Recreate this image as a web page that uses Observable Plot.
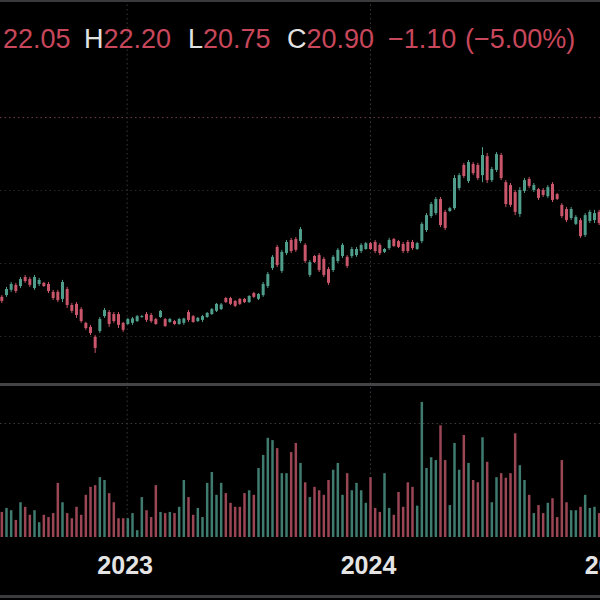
<!DOCTYPE html>
<html>
<head>
<meta charset="utf-8">
<script src="https://cdn.jsdelivr.net/npm/d3@7"></script>
<script src="https://cdn.jsdelivr.net/npm/@observablehq/plot@0.6"></script>
<style>
  html, body { margin: 0; padding: 0; background: #000; }
  #wrap { position: relative; width: 600px; height: 600px; overflow: hidden; background: #000; font-family: "Liberation Sans", Arial, sans-serif; }
  #price { position: absolute; left: 0; top: 0; }
  #vol { position: absolute; left: 0; top: 385px; }
  .hdr { position: absolute; top: 26px; font-size: 27px; line-height: 27px; color: #c8475b; white-space: nowrap; }
  .lbl { color: #e2e2e2; }
  #topline { position: absolute; left: 0; top: 0; width: 600px; height: 2px; background: #3a3a3c; }
  #sep { position: absolute; left: 0; top: 383px; width: 600px; height: 3px; background: #444446; }
  #bottom { position: absolute; left: 0; top: 595px; width: 600px; height: 3px; background: #3c3c3e; }
</style>
</head>
<body>
<div id="wrap">
  <div id="price"></div>
  <div id="vol"></div>
  <div id="topline"></div>
  <div id="sep"></div>
  <div id="bottom"></div>
  <span class="hdr" style="left:3px">22.05</span>
  <span class="hdr" style="left:84px"><span class="lbl">H</span>22.20</span>
  <span class="hdr" style="left:188px"><span class="lbl">L</span>20.75</span>
  <span class="hdr" style="left:287px"><span class="lbl">C</span>20.90</span>
  <span class="hdr" style="left:388px">−1.10</span>
  <span class="hdr" style="left:465px">(−5.00%)</span>
</div>
<script>
// Weekly candles
const open = [18.84,18.90,19.08,19.25,19.21,19.52,19.45,19.14,19.28,19.32,19.28,19.01,19.01,18.77,19.11,18.56,18.60,18.42,17.95,17.81,17.47,17.67,18.18,18.32,18.25,18.25,17.95,17.91,
17.95,18.01,18.15,18.25,18.22,18.08,18.15,18.08,17.98,18.01,17.91,17.95,18.32,18.18,18.01,18.05,18.15,18.25,18.36,18.42,18.80,18.80,18.70,18.77,18.77,18.66,18.97,18.77,18.90,19.21,
19.83,20.55,19.73,20.34,20.79,20.82,20.75,20.62,19.59,20.24,20.27,20.14,19.79,19.76,20.07,20.24,20.21,20.24,20.27,20.41,20.48,20.68,20.72,20.62,20.38,20.51,20.82,20.75,20.65,20.72,
20.72,20.48,20.75,21.13,21.61,21.71,22.19,21.75,21.78,21.88,22.57,23.36,22.81,23.39,23.36,23.01,23.66,22.84,23.19,23.70,22.77,
22.67,22.43,21.68,22.47,22.88,22.50,22.53,22.50,22.29,22.71,22.36,21.99,21.85,21.54,21.34,21.47,20.96,21.44,21.47,21.75];
const high = [18.90,19.18,19.35,19.32,19.52,19.59,19.52,19.59,19.49,19.35,19.35,19.08,19.08,19.42,19.18,18.63,18.66,18.49,17.98,17.88,17.53,18.15,18.46,18.39,18.32,18.32,17.98,18.12,
18.15,18.22,18.22,18.32,18.29,18.12,18.39,18.12,18.12,18.05,18.12,18.12,18.39,18.22,18.15,18.22,18.32,18.46,18.63,18.63,18.84,18.84,18.73,18.80,18.80,18.90,19.01,18.97,19.35,19.69,
20.27,20.62,20.45,20.79,20.86,20.89,21.23,20.68,20.10,20.27,20.34,20.21,19.86,20.27,20.51,20.68,20.27,20.55,20.55,20.68,20.72,20.72,20.79,20.68,20.51,20.86,20.86,20.79,20.72,20.79,
20.79,20.72,21.40,21.71,22.09,22.26,22.26,21.82,21.92,23.01,23.08,23.43,23.53,23.46,23.43,23.97,23.77,23.29,23.80,23.77,22.84,
22.74,22.50,22.60,22.91,22.95,22.74,22.57,22.57,22.67,22.77,22.40,22.05,21.92,21.92,21.64,21.54,21.71,21.82,21.82,21.82];
const low = [18.63,18.84,19.01,18.97,19.14,19.32,19.18,19.08,19.21,19.18,18.97,18.73,18.66,18.66,18.46,18.29,18.12,17.95,17.71,17.53,16.92,17.60,18.12,17.81,17.95,17.77,17.64,17.88,
17.88,17.98,18.12,17.98,17.95,17.88,18.12,17.81,17.95,17.88,17.88,17.88,17.98,17.95,17.98,17.98,18.12,18.22,18.32,18.39,18.63,18.56,18.49,18.56,18.63,18.63,18.80,18.73,18.84,19.14,
19.76,19.86,19.66,20.27,20.34,20.38,20.68,20.00,19.52,20.00,19.69,19.52,19.25,19.69,20.00,20.17,19.83,20.17,20.21,20.34,20.45,20.45,20.34,20.27,20.34,20.45,20.55,20.51,20.34,20.34,
20.45,20.45,20.68,21.06,21.54,21.64,21.23,21.13,21.75,21.82,22.50,22.91,22.74,23.01,22.84,22.77,22.74,22.77,23.12,22.84,21.92,
21.92,21.64,21.58,22.40,22.57,22.43,22.16,22.26,22.23,22.09,22.16,21.54,21.40,21.47,21.30,20.86,20.89,21.37,21.37,21.30];
const close = [18.70,19.11,19.28,19.04,19.45,19.38,19.25,19.52,19.42,19.21,19.04,18.80,18.73,19.35,18.56,18.36,18.22,18.01,17.77,17.60,17.09,18.08,18.39,17.91,18.01,17.88,17.71,18.08,
18.10,18.18,18.18,18.05,18.01,17.91,18.36,17.84,18.08,17.91,18.08,18.10,18.05,17.98,18.12,18.18,18.29,18.42,18.60,18.58,18.66,18.60,18.53,18.60,18.66,18.87,18.84,18.94,19.28,19.62,
20.21,19.93,20.38,20.72,20.41,20.45,21.16,20.07,20.03,20.03,19.76,19.59,19.32,20.21,20.45,20.62,19.90,20.48,20.48,20.62,20.68,20.48,20.41,20.34,20.48,20.79,20.58,20.55,20.41,20.41,
20.51,20.68,21.34,21.64,22.02,22.19,21.30,21.20,21.88,22.91,23.01,22.98,23.46,23.08,22.91,23.70,22.84,23.22,23.73,22.91,22.02,
21.99,21.75,22.50,22.84,22.64,22.67,22.23,22.33,22.60,22.16,22.19,21.61,21.47,21.85,21.58,20.92,21.64,21.75,21.71,21.37];
// Weekly volume (millions)
const volume = [0.44,0.51,0.47,0.30,0.61,0.53,0.39,0.47,0.26,0.39,0.35,0.42,0.95,0.61,0.42,0.33,0.53,0.39,0.74,0.88,0.91,1.05,1.00,0.77,0.61,0.33,0.33,0.33,
0.42,0.12,0.70,0.47,0.35,0.91,0.44,0.42,0.44,0.42,0.53,1.00,0.70,0.39,0.51,0.35,0.95,1.14,0.74,0.95,0.77,0.60,0.53,0.53,0.77,0.82,0.74,1.21,1.44,1.74,
1.70,1.56,1.12,1.12,1.49,1.65,1.30,0.96,0.70,0.88,0.82,0.74,1.00,1.18,1.30,0.74,1.12,0.82,0.95,0.82,0.60,1.05,0.51,0.44,1.12,0.51,0.39,0.79,0.53,0.96,
0.88,0.55,2.37,1.21,1.40,1.35,1.96,1.35,0.56,1.65,1.18,1.79,1.30,1.00,0.96,1.75,1.32,0.61,1.05,1.12,1.04,
1.12,1.82,1.26,1.00,0.74,0.42,0.56,0.42,0.60,0.68,0.35,1.35,0.61,0.47,0.47,0.53,0.74,0.51,0.53,0.42];
const firstWeek = new Date(Date.UTC(2022, 5, 27));
const yearTicks = [new Date(Date.UTC(2023,0,1)), new Date(Date.UTC(2024,0,1)), new Date(Date.UTC(2025,0,1))];
const yearLabels = ["2023", "2024", "2025"];
const priceGrid = [17.5, 20, 22.5];
const priceLine = [25];
const volGrid = [2];

const UP = "#4f9d8b", DOWN = "#c9566a";
const UPV = "#3f7b6e", DOWNV = "#9a4654";

const dates = d3.utcMonday.range(firstWeek, d3.utcMonday.offset(firstWeek, open.length));
const rows = dates.map((d, i) => ({date: d, open: open[i], high: high[i], low: low[i], close: close[i], volume: volume[i]}));
const xDomain = [new Date(Date.UTC(2022,5,25)), new Date(Date.UTC(2024,11,11))];

const price = Plot.plot({
  width: 600, height: 385, margin: 0,
  style: {background: "transparent"},
  x: {type: "utc", domain: xDomain, axis: null},
  y: {domain: [15.82, 29.01], axis: null},
  marks: [
    Plot.ruleY(priceGrid, {stroke: "#2a2a2e", strokeDasharray: "1.5,3"}),
    Plot.ruleY(priceLine, {stroke: "#6e3d48", strokeDasharray: "1.5,3"}),
    Plot.ruleX(yearTicks, {stroke: "#38383c", strokeDasharray: "1.5,3"}),
    Plot.ruleX(rows, {x: "date", y1: "low", y2: "high", stroke: d => d.close >= d.open ? UP : DOWN, strokeWidth: 1}),
    Plot.ruleX(rows, {x: "date", y1: "open", y2: "close", stroke: d => d.close >= d.open ? UP : DOWN, strokeWidth: 3})
  ]
});
document.getElementById("price").appendChild(price);

const vol = Plot.plot({
  width: 600, height: 215, marginTop: 0, marginBottom: 63, marginLeft: 0, marginRight: 0,
  style: {background: "transparent", overflow: "visible"},
  x: {type: "utc", domain: xDomain, axis: null},
  y: {domain: [0, 2.667], axis: null},
  marks: [
    Plot.ruleY(volGrid, {stroke: "#3a3a3e", strokeDasharray: "1.5,3"}),
    Plot.ruleX(yearTicks, {y1: 0, y2: 2.667, stroke: "#38383c", strokeDasharray: "1.5,3"}),
    Plot.ruleX(rows, {x: "date", y1: 0, y2: "volume", stroke: d => d.close >= d.open ? UPV : DOWNV, strokeWidth: 2.5}),
    Plot.text(yearTicks, {x: d => d, y: 0, dy: 28, dx: -2, text: (d, i) => yearLabels[i], fill: "#e4e4e4", fontSize: 25, fontWeight: "bold", fontFamily: "Liberation Sans, Arial, sans-serif"})
  ]
});
document.getElementById("vol").appendChild(vol);
</script>
</body>
</html>
